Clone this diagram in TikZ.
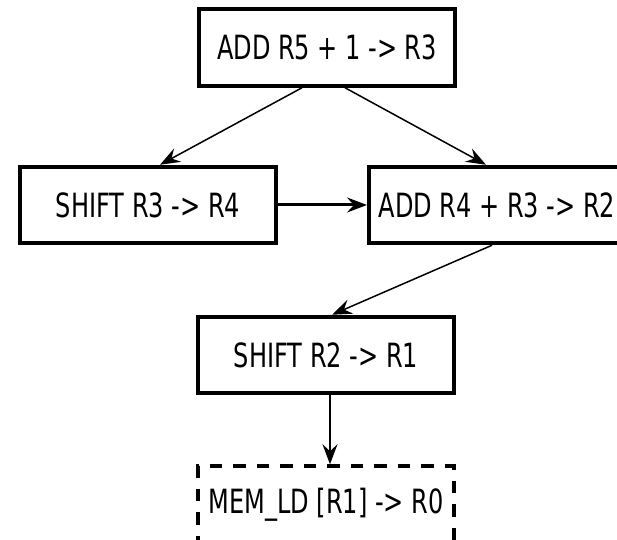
\documentclass[tikz,border=0pt]{standalone}
\usepackage{fontspec}
\setmainfont{DejaVu Sans Condensed}[FakeStretch=0.8]
\usepackage{tikz}
\usetikzlibrary{positioning, arrows.meta}

\begin{document}
\begin{tikzpicture}[
    opbox/.style={rectangle, draw=black, line width=0.08cm, fill=white, minimum width=5.12cm, minimum height=1.53cm, inner sep=0pt, font=\fontsize{19}{22}\selectfont},
    ldbox/.style={opbox, dash pattern=on 0.25cm off 0.22cm},
    flow/.style={-{Stealth[length=0.4cm, width=0.3cm, inset=0.14cm]}, line width=0.03cm}
    ]
    \useasboundingbox (0,0) rectangle (12.34,-10.8);
    \clip (0,0) rectangle (12.34,-10.8);

    \node[opbox]      (addone)                              at (6.54,-0.95) {ADD R5 + 1 -> R3};
    \node[opbox]      (shiftthree)                          at (2.96,-4.10) {SHIFT R3 -> R4};
    \node[opbox]      (addfour)   [right=1.78cm of shiftthree]             {ADD R4 + R3 -> R2};
    \node[opbox]      (shifttwo)                            at (6.52,-7.10) {SHIFT R2 -> R1};
    \node[ldbox]      (memld)     [below=1.38cm of shifttwo]               {MEM\_LD [R1] -> R0};

    \draw[flow] ([xshift=-0.5cm]addone.south) -- ([xshift=0.24cm]shiftthree.north);
    \draw[flow] ([xshift=0.36cm]addone.south) -- ([xshift=-0.22cm]addfour.north);
    \draw[flow, line width=0.06cm] (shiftthree.east) -- (addfour.west);
    \draw[flow] ([xshift=-0.1cm]addfour.south) -- ([xshift=0.12cm]shifttwo.north);
    \draw[flow] ([xshift=0.08cm]shifttwo.south) -- ([xshift=0.08cm]memld.north);
  \end{tikzpicture}
\end{document}
